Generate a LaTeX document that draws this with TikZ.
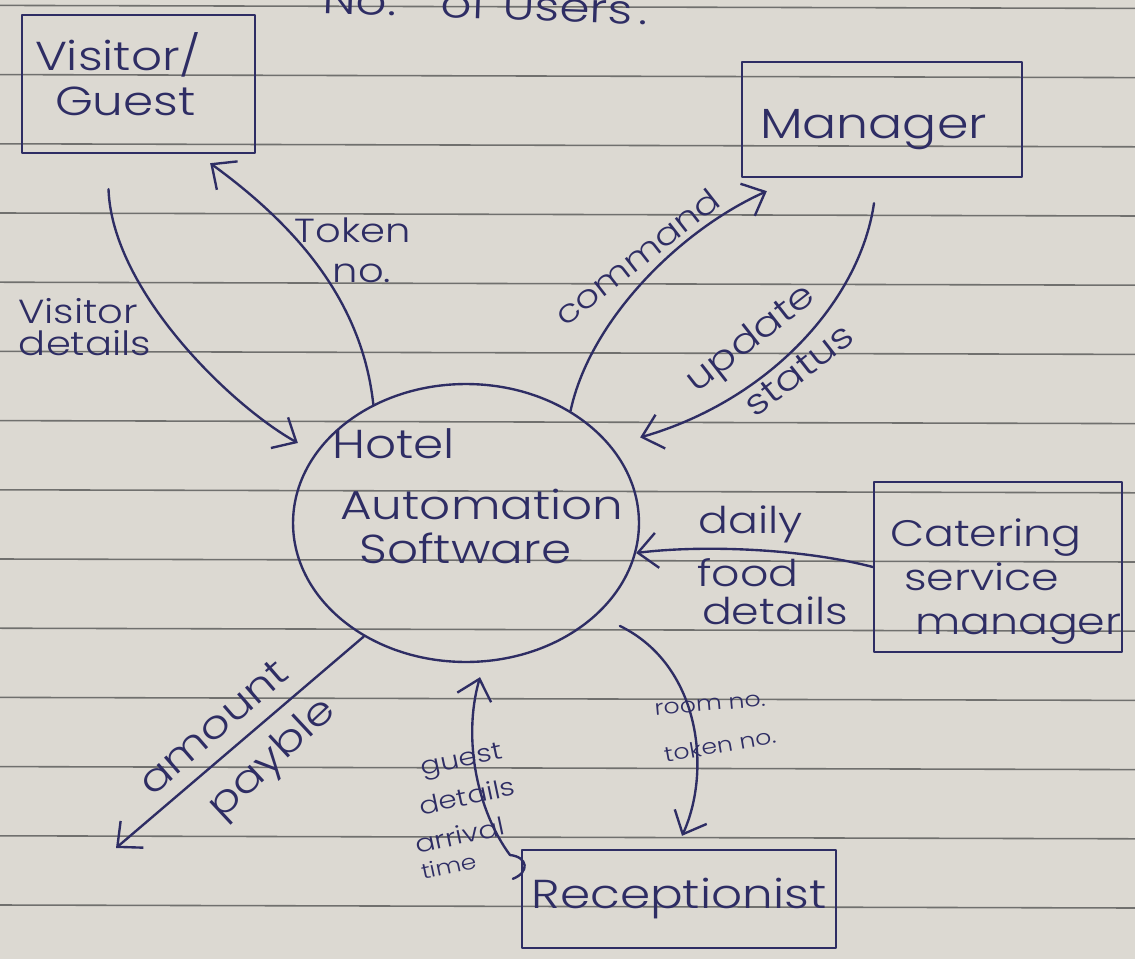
\documentclass[tikz,border=0pt]{standalone}
\usepackage{fontspec}
\setmainfont{Poppins}[UprightFont=* Light, FakeStretch=1.2]
\usetikzlibrary{arrows.meta,shapes.geometric,calc}

\definecolor{paper}{RGB}{220,217,210}
\definecolor{rule}{RGB}{112,112,110}
\definecolor{ink}{RGB}{46,45,100}
\newcommand\fsz[2]{\fontsize{#1}{#2}\selectfont}

\tikzset{
  inkline/.style={draw=ink, line width=1.35pt, line cap=round, line join=round},
  box/.style={inkline, rectangle, inner ysep=0pt, align=left, text=ink},
  hubshape/.style={inkline, ellipse, inner sep=0pt},
  flow/.style={inkline, -{Straight Barb[length=11pt,width=20pt]}},
  lbl/.style={text=ink, inner sep=0pt, font=\fsz{19}{23}},
  small/.style={lbl, font=\fsz{12}{14}},
  tiny/.style={lbl, font=\fsz{14}{16}},
}

\begin{document}
\begin{tikzpicture}[x=0.02cm, y=-0.02cm]
\useasboundingbox (0,0) rectangle (1135,959);
\clip (0,0) rectangle (1135,959);

% ruled notebook page
\fill[paper] (0,0) rectangle (1135,959);
\foreach \k in {0,...,13}
  \draw[rule, line width=0.9pt] (0,{5.4+69.2*\k}) -- (1135,{8.4+69.2*\k});

% heading left over from the previous note, cut by the page edge
\node[lbl, font=\fsz{23}{27}, anchor=base, rotate=-2] (heading) at (485,19)
  {No.\hspace{0.9cm}of\hspace{0.3cm}Users\,.};

% external entities
\node[box, text width=4.14cm, inner xsep=0.26cm, minimum height=2.76cm,
      font=\fsz{23}{26}] (visitor) at (138.5,84)
      {Visitor/\\\hspace*{0.4cm}Guest\rule[-0.4cm]{0pt}{0pt}};
\node[box, text width=4.88cm, inner xsep=0.36cm, minimum height=2.3cm,
      font=\fsz{24}{28}] (manager) at (882,119.5) {\rule{0pt}{0.99cm}Manager};
\node[box, text width=4.96cm, inner xsep=0pt, minimum height=3.4cm,
      font=\fsz{21}{25}] (catering) at (998,567)
      {\rule{0pt}{1.14cm}\hspace*{0.32cm}\mbox{Catering}\\
       \hspace*{0.6cm}\mbox{service}\\
       \hspace*{0.82cm}\mbox{manager}};
\node[box, align=center, minimum width=6.28cm, minimum height=1.96cm,
      font=\fsz{23}{27}] (recep) at (679,899) {Receptionist};

% the process
\node[hubshape, minimum width=6.92cm, minimum height=5.56cm] (hub) at (466,523) {};
\node[lbl, align=left, font=\fsz{23}{25}, anchor=north west] (hubtext) at (332,428)
  {Hotel\\[0.35cm]\hspace*{0.16cm}Automation\\\hspace*{0.54cm}Software};

\coordinate (payout) at (116,848);

% data flows
\draw[flow, shorten >=0.4cm] ($(visitor.south)+(-30,35)$)
  .. controls (112,290) and (230,405) .. (hub.155);
\draw[flow] (hub.128) .. controls (362,300) and (295,225) .. ($(visitor.south east)+(-46,9)$);
\draw[flow] (hub.47) .. controls (590,320) and (680,230) .. ($(manager.south west)+(26,13)$);
\draw[flow, shorten >=0.6cm] ($(manager.south)+(-8,25)$)
  .. controls (860,300) and (770,400) .. (hub.28);
\draw[flow] (catering.west) .. controls (800,548) and (700,545) .. (hub.-10);
\draw[flow, shorten <=0.5cm] (hub.-35) .. controls (700,665) and (712,770) .. ($(recep.north)+(3,-13)$);
\draw[flow] ($(recep.north west)+(-8,30)$) .. controls (530,872) and (528,857) .. (510,855)
  .. controls (478,812) and (462,740) .. ($(hub.south)+(14,14)$);
\draw[flow] (hub.-132) -- (payout);

% flow labels
\node[lbl, anchor=base] (lvis1) at (78,323) {Visitor};
\node[lbl, anchor=base] (lvis2) at (85,356) {details};
\node[lbl, anchor=base] (ltok1) at (353,243) {Token};
\node[lbl, anchor=base] (ltok2) at (362,283) {no.};
\node[lbl, rotate=38, font=\fsz{18}{22}] (lcmd) at (637,257) {command};
\node[lbl, rotate=38, font=\fsz{20}{24}] (lupd1) at (752,340) {update};
\node[lbl, rotate=38, font=\fsz{20}{24}] (lupd2) at (799,370) {status};
\node[lbl, anchor=base, font=\fsz{21}{25}] (lfood1) at (751,533) {daily};
\node[lbl, anchor=base, font=\fsz{21}{25}] (lfood2) at (748,586) {food};
\node[lbl, anchor=base, font=\fsz{21}{25}] (lfood3) at (775,624) {details};
\node[small, rotate=5] (lroom1) at (710,705) {room no.};
\node[small, rotate=10] (lroom2) at (720,745) {token no.};
\node[tiny, rotate=12] (lgst1) at (462,762) {guest};
\node[tiny, rotate=12] (lgst2) at (467,796) {details};
\node[tiny, rotate=12] (lgst3) at (460,835) {arrival};
\node[small, rotate=12] (lgst4) at (449,866) {time};
\node[lbl, rotate=41, font=\fsz{22}{26}] (lamt1) at (213,727) {amount};
\node[lbl, rotate=43, font=\fsz{22}{26}] (lamt2) at (273,760) {payble};
\end{tikzpicture}
\end{document}
